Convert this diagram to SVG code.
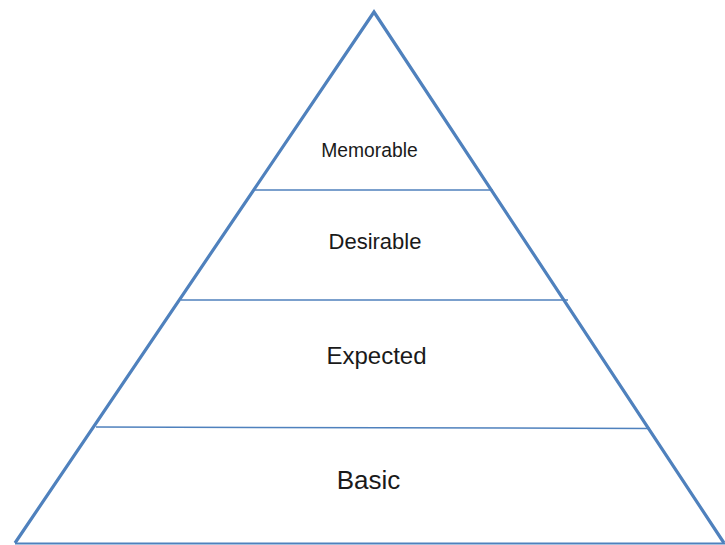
<svg xmlns="http://www.w3.org/2000/svg" width="725" height="545" viewBox="0 0 725 545">
<style>
.tri{fill:none;stroke:#4F81BD;stroke-width:3.2;stroke-linejoin:miter}
.div{stroke:#4F81BD;stroke-width:1.5;fill:none}
.base{stroke:#4F81BD;stroke-width:2;fill:none}
text{font-family:"Liberation Sans",Arial,sans-serif;fill:#1a1a1a;text-anchor:middle}
</style>
<rect width="725" height="545" fill="#fff"/>
<g id="pyramid">
<polyline class="tri" points="15,543 374,12 724,543"/>
<line class="base" x1="15" y1="543.5" x2="725" y2="543.5"/>
</g>
<g id="connectors">
<line class="div" x1="255" y1="190" x2="493" y2="190"/>
<line class="div" x1="181" y1="300" x2="568" y2="300"/>
<line class="div" x1="96" y1="427" x2="650" y2="428.5"/>
</g>
<g id="memorable"><text x="369.5" y="157" font-size="19.3">Memorable</text></g>
<g id="desirable"><text x="375" y="249" font-size="22">Desirable</text></g>
<g id="expected"><text x="376.5" y="364" font-size="24">Expected</text></g>
<g id="basic"><text x="368.5" y="489" font-size="26">Basic</text></g>
</svg>
